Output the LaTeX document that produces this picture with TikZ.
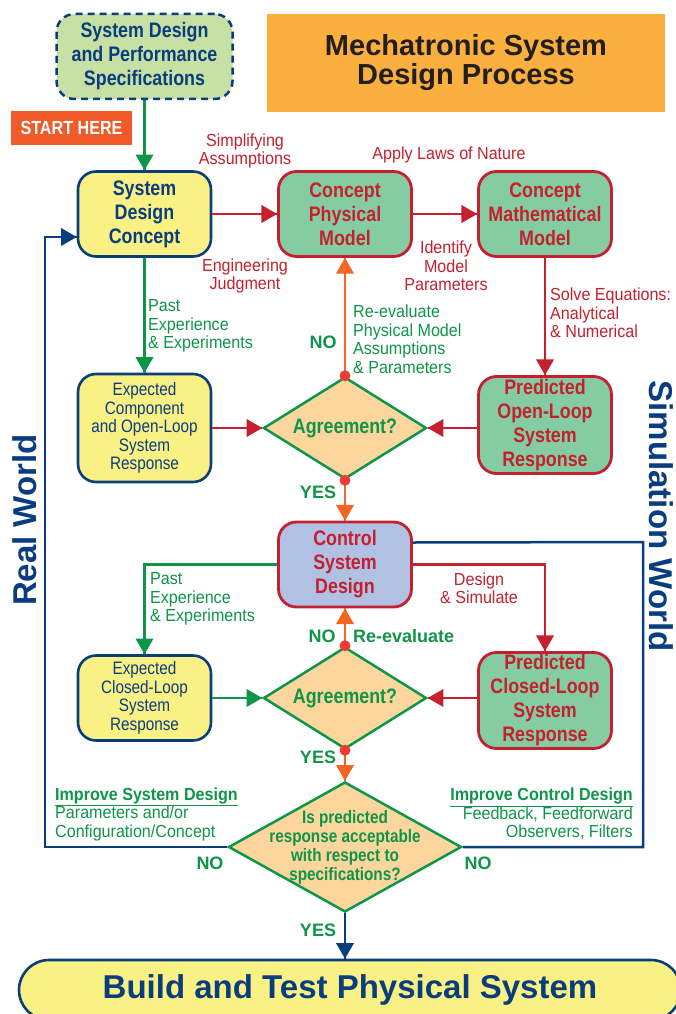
\documentclass[tikz,border=0pt]{standalone}
\usepackage{fontspec}
\setmainfont{Liberation Sans}
\newfontfamily\boxfont{Liberation Sans}[FakeStretch=0.85]
\newfontfamily\lblfont{Liberation Sans}[FakeStretch=0.92]
\usetikzlibrary{arrows}
\usetikzlibrary{calc}
\usetikzlibrary{decorations.markings}
\usetikzlibrary{shapes.geometric}
\definecolor{mnavy}{HTML}{0A3D7E}
\definecolor{mred}{HTML}{C4202F}
\definecolor{mgreen}{HTML}{0E9548}
\definecolor{morange}{HTML}{F26522}
\definecolor{mdot}{HTML}{EE3B35}
\definecolor{myellow}{HTML}{FAF185}
\definecolor{mmint}{HTML}{86CCA2}
\definecolor{mlilac}{HTML}{B0C1E3}
\definecolor{mpeach}{HTML}{FCD69D}
\definecolor{mspec}{HTML}{C7E0A4}
\definecolor{mtitle}{HTML}{FBAF3F}
\definecolor{mstart}{HTML}{F15A29}
\definecolor{mink}{HTML}{231F20}
\tikzset{flow/.style = {line width=2.5pt,
                        decoration={markings,
                                    mark=at position 1 with {\arrow[scale=1.25]{triangle 60}}},
                        postaction={decorate}}}
\tikzset{loop/.style = {line width=2.5pt, mnavy}}
\tikzset{boldtext/.style = {font=\boxfont\bfseries\fontsize{21}{24}\selectfont}}
\tikzset{regtext/.style = {font=\boxfont\fontsize{18}{18.5}\selectfont}}
\tikzset{realbox/.style = {rectangle, rounded corners=18pt, draw=mnavy, fill=myellow,
                           line width=2.6pt, minimum width=133pt, minimum height=85pt,
                           align=center, text=mnavy, inner sep=0pt}}
\tikzset{simbox/.style = {rectangle, rounded corners=18pt, draw=mred, fill=mmint,
                          line width=2.8pt, minimum width=133pt, minimum height=85pt,
                          align=center, text=mred, inner sep=0pt, boldtext}}
\tikzset{decide/.style = {diamond, aspect=1.6, draw=mgreen, fill=mpeach, line width=2.5pt,
                          text=mgreen, inner sep=0pt, boldtext,
                          minimum width=163pt, minimum height=102pt}}
\tikzset{lbl/.style = {font=\lblfont\fontsize{17.5}{18.5}\selectfont, inner sep=0pt, align=left}}
\tikzset{yesno/.style = {font=\bfseries\fontsize{18}{20}\selectfont, text=mgreen, inner sep=0pt}}
\tikzset{side/.style = {font=\bfseries\fontsize{33}{36}\selectfont, text=mnavy, inner sep=0pt}}
\tikzset{dot/.style = {circle, fill=mdot, inner sep=0pt, minimum size=11pt}}

\begin{document}
\begin{tikzpicture}[x=1pt, y=-1pt]
      \useasboundingbox (0, 0) rectangle (676, 1014);
      \clip (0, 0) rectangle (676, 1014);
      \node [fill=mtitle, minimum width=398pt, minimum height=98pt, align=center, text=mink,
             font=\bfseries\fontsize{29}{29}\selectfont] (title) at (466, 63)
            {Mechatronic System\\Design Process};
      \node [realbox, boldtext, fill=mspec, dash pattern=on 7pt off 5pt, line width=2.5pt,
             minimum width=176pt] (spec) at (144.5, 56.5) {System Design\\and Performance\\Specifications};
      \node [fill=mstart, text=white, minimum width=121pt, minimum height=34pt,
             font=\boxfont\bfseries\fontsize{19}{20}\selectfont] (start) at (71.5, 128) {START HERE};
      \node [realbox, boldtext] (sdc) at (144.5, 214) {System\\Design\\Concept};
      \node [simbox] (cpm) at (345, 214) {Concept\\Physical\\Model};
      \node [simbox] (cmm) at (545, 214) {Concept\\Mathematical\\Model};
      \node [realbox, regtext, minimum height=108pt] (expol) at (144.5, 428) {Expected\\Component\\and Open-Loop\\System\\Response};
      \node [decide] (agree1) at (345, 428) {Agreement?};
      \node [simbox, minimum height=97pt] (pol) at (545, 425) {Predicted\\Open-Loop\\System\\Response};
      \node [simbox, fill=mlilac] (csd) at (345, 564.5) {Control\\System\\Design};
      \node [realbox, regtext, minimum height=85pt] (excl) at (144.5, 698) {Expected\\Closed-Loop\\System\\Response};
      \node [decide] (agree2) at (345, 698) {Agreement?};
      \node [simbox, minimum height=96pt] (pcl) at (545, 700.5) {Predicted\\Closed-Loop\\System\\Response};
      \node [decide, minimum width=233pt, minimum height=130pt] (accept) at (345, 847) {};
      \node [text=mgreen, align=center, inner sep=0pt,
             font=\boxfont\bfseries\fontsize{18}{19}\selectfont] (accepttext) at (accept)
            {Is predicted\\response acceptable\\with respect to\\specifications?};
      \node [realbox, rounded corners=30pt, minimum width=662pt, minimum height=60pt,
             font=\bfseries\fontsize{33}{36}\selectfont] (build) at (350, 990) {Build and Test Physical System};

      \coordinate (sdcin) at ($(sdc.west)+(0, 23)$);
      \coordinate (realturn) at (45, 237);
      \coordinate (csdin) at ($(csd.east)+(0, -22)$);
      \coordinate (simturn) at (643, 542);

      \draw [flow, mgreen] (spec) -- (sdc);
      \draw [flow, mred] (sdc) -- (cpm);
      \draw [flow, mred] (cpm) -- (cmm);
      \draw [flow, mred] (cmm) -- (pol);
      \draw [flow, mgreen] (sdc) -- (expol);
      \draw [flow, mred] (expol) -- (agree1);
      \draw [flow, mred] (pol.west |- agree1.east) -- (agree1.east);
      \draw [flow, morange] (agree1.north) -- (cpm.south);
      \draw [flow, morange] (agree1.south) -- (csd.north);
      \draw [flow, mgreen] (csd.west) -| (excl.north);
      \draw [flow, mred] (csd.east) -| (pcl.north);
      \draw [flow, mgreen] (excl) -- (agree2);
      \draw [flow, mred] (pcl.west |- agree2.east) -- (agree2.east);
      \draw [flow, morange] (agree2.north) -- (csd.south);
      \draw [flow, morange] (agree2.south) -- (accept.north);
      \draw [flow, mnavy] (accept.south) -- (accept.south |- build.north);
      \draw [flow, mnavy] (accept.west) -| (realturn) -- (sdcin);
      \draw [loop] (accept.east) -| (simturn) -- (csdin);
      \node [dot] (dot1) at (agree1.north) {};
      \node [dot] (dot2) at (agree1.south) {};
      \node [dot] (dot3) at (agree2.north) {};
      \node [dot] (dot4) at (agree2.south) {};

      \node [lbl, mred, align=center] (simplify) at (245, 151) {Simplifying\\Assumptions};
      \node [lbl, mred, align=center] (judgment) at (245, 276) {Engineering\\Judgment};
      \node [lbl, mred] (laws) at (449, 155) {Apply Laws of Nature};
      \node [lbl, mred, align=center] (identify) at (446, 266) {Identify\\Model\\Parameters};
      \node [lbl, mred, anchor=west] (solve) at (550, 313) {Solve Equations:\\Analytical\\\& Numerical};
      \node [lbl, mgreen, anchor=west] (past1) at (148, 326) {Past\\Experience\\\& Experiments};
      \node [lbl, mgreen, anchor=west] (reeval1) at (353, 339) {Re-evaluate\\Physical Model\\Assumptions\\\& Parameters};
      \node [lbl, mgreen, anchor=west] (past2) at (150, 599) {Past\\Experience\\\& Experiments};
      \node [lbl, mred, align=center] (designsim) at (479, 588) {Design\\\& Simulate};
      \node [lbl, mgreen, anchor=west] (impsys) at (55, 814)
            {\textbf{\underline{Improve System Design}}\\Parameters and/or\\Configuration/Concept};
      \node [lbl, mgreen, anchor=east, align=right] (impctl) at (633, 814)
            {\textbf{\underline{Improve Control Design}}\\Feedback, Feedforward\\Observers, Filters};
      \node [yesno] (no1) at (323, 342) {NO};
      \node [yesno] (yes1) at (318, 492) {YES};
      \node [yesno] (no2) at (322, 636) {NO};
      \node [yesno, anchor=west] (reeval2) at (353, 636) {Re-evaluate};
      \node [yesno] (yes2) at (318, 757) {YES};
      \node [yesno] (no3) at (210, 863) {NO};
      \node [yesno] (no4) at (478, 863) {NO};
      \node [yesno] (yes3) at (318, 930) {YES};
      \node [side, rotate=90] (realworld) at (25, 520) {Real World};
      \node [side, rotate=-90] (simworld) at (661, 516) {Simulation World};
    \end{tikzpicture}
\end{document}
